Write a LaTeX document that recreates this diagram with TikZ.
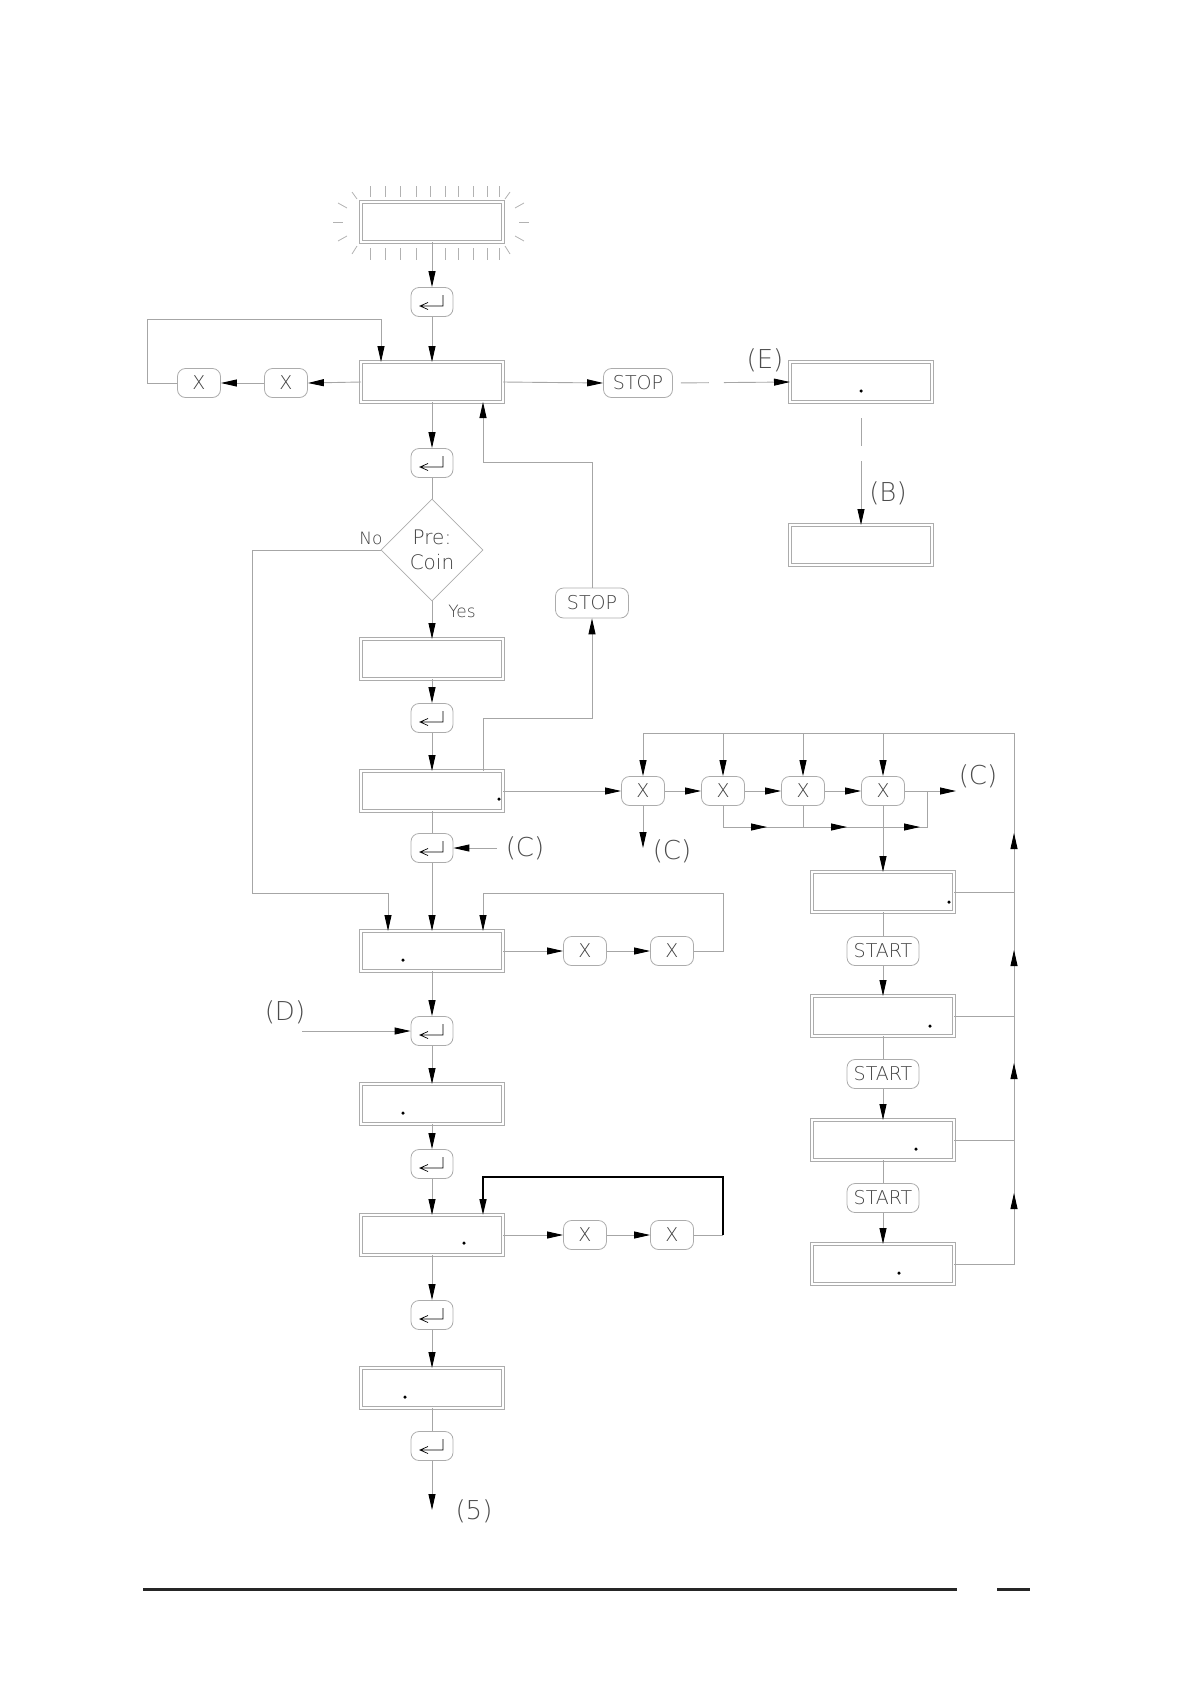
\documentclass[tikz,border=0pt]{standalone}
\usepackage{fontspec}
\setmainfont{DejaVu Sans ExtraLight}
\usetikzlibrary{arrows.meta,shapes.geometric,calc}
\begin{document}
\begin{tikzpicture}[x=1pt,y=-1pt,
  ln/.style={draw=gray!70, line width=0.9pt},
  arr/.style={ln, -{Triangle[length=16pt,width=7pt,color=black]}},
  boldarr/.style={draw=black, line width=1.6pt, -{Triangle[length=16pt,width=7pt,color=black]}},
  disp/.style={draw=gray!65, double=white, double distance=2.4pt, line width=0.75pt, minimum width=142pt, minimum height=40pt, inner sep=0pt, outer sep=0pt},
  btn/.style={draw=gray!65, line width=0.8pt, rounded corners=8pt, minimum height=29pt, inner sep=0pt, text=black!75, font=\fontsize{19}{22}\selectfont},
  xbtn/.style={btn, minimum width=43pt},
  entbtn/.style={btn, minimum width=42pt},
  stopbtn/.style={btn, minimum width=69pt},
  startbtn/.style={btn, minimum width=72pt},
  lab/.style={text=black!70, font=\fontsize{26}{28}\selectfont, inner sep=0pt},
  smlab/.style={text=black!75, font=\fontsize{17}{19}\selectfont, inner sep=0pt},
  dotmark/.style={circle, fill=black, inner sep=0pt, minimum size=3.5pt},
  ray/.style={draw=gray!60, line width=0.8pt},
  entsym/.style={draw=black, line width=0.7pt},
]
\useasboundingbox (0,0) rectangle (1190,1684);

% ---------- display boxes ----------
\node[disp] (T)  at (432,222) {};
\node[disp] (M)  at (432,382) {};
\node[disp] (EB) at (861,382) {};
\node[disp] (BB) at (861,545) {};
\node[disp] (B3) at (432,659) {};
\node[disp] (B4) at (432,791) {};
\node[disp] (B5) at (432,951) {};
\node[disp] (B6) at (432,1104) {};
\node[disp] (B7) at (432,1235) {};
\node[disp] (B8) at (432,1388) {};
\node[disp] (R1) at (883,892) {};
\node[disp] (R2) at (883,1016) {};
\node[disp] (R3) at (883,1140) {};
\node[disp] (R4) at (883,1264) {};

% dots
\node[dotmark] (dE) at (861,391) {};
\node[dotmark] (d4) at (499,799) {};
\node[dotmark] (d5) at (403,960) {};
\node[dotmark] (d6) at (403,1113) {};
\node[dotmark] (d7) at (464,1243) {};
\node[dotmark] (d8) at (405,1397) {};
\node[dotmark] (dr1) at (949,902) {};
\node[dotmark] (dr2) at (930,1026) {};
\node[dotmark] (dr3) at (916,1149) {};
\node[dotmark] (dr4) at (899,1273) {};

% rays around the flashing display
\foreach \x in {370,385,400,416,445,458,473,487,499} {
  \draw[ray] (\x,186) -- (\x,197);
  \draw[ray] (\x,248) -- (\x,260);
}
\draw[ray] (430,186) -- (430,197);
\foreach \a/\b/\c/\d in {352/192/357/199, 338/203/347/208, 333/222/343/222, 338/241/347/236, 352/254/357/246} {
  \draw[ray] (\a,\b) -- (\c,\d);
  \draw[ray] ({862-\a},\b) -- ({862-\c},\d);
}

% ---------- enter buttons ----------
\foreach \n/\y in {N1/302, N2/463, N3/718, N4/848, N5/1031, N6/1164, N7/1315, N8/1446} {
  \node[entbtn] (\n) at (432,\y) {};
  \draw[entsym, shift={(\n.center)}] (11,-7) -- (11,4) -- (-12,4) (-4,0.5) -- (-12,4) -- (-4,7.5);
}

% ---------- X buttons ----------
\node[xbtn] (XL1) at (199,383) {X};
\node[xbtn] (XL2) at (286,383) {X};
\node[xbtn] (XC1) at (643,791) {X};
\node[xbtn] (XC2) at (723,791) {X};
\node[xbtn] (XC3) at (803,791) {X};
\node[xbtn] (XC4) at (883,791) {X};
\node[xbtn] (X5a) at (585,951) {X};
\node[xbtn] (X5b) at (672,951) {X};
\node[xbtn] (X7a) at (585,1235) {X};
\node[xbtn] (X7b) at (672,1235) {X};

% ---------- STOP / START ----------
\node[stopbtn] (S1) at (638,383) {STOP};
\node[stopbtn, minimum width=73pt, minimum height=30pt] (S2) at (592,603) {STOP};
\node[startbtn] (ST1) at (883,951) {START};
\node[startbtn] (ST2) at (883,1074) {START};
\node[startbtn] (ST3) at (883,1198) {START};

% ---------- decision ----------
\node[diamond, draw=gray!65, line width=0.8pt, minimum width=102pt, minimum height=102pt, inner sep=0pt, align=center, text=black!75, font=\fontsize{20}{25}\selectfont] (D) at (432,550) {Pre:\\Coin};
\node[smlab] (no) at (371,538) {No};
\node[smlab] (yes) at (462,611) {Yes};

% ---------- labels ----------
\node[lab] (lE) at (765,360) {(E)};
\node[lab] (lB) at (888,493) {(B)};
\node[lab] (lC1) at (525,848) {(C)};
\node[lab] (lC2) at (672,851) {(C)};
\node[lab] (lC3) at (978,776) {(C)};
\node[lab] (lD) at (285,1012) {(D)};
\node[lab] (l5) at (474,1511) {(5)};

% free ends
\coordinate (rt) at (1014,733);
\coordinate (byp) at (927,827);
\coordinate (cC3) at (956,791);
\coordinate (cC2) at (643,848);
\coordinate (cC1) at (497,848);
\coordinate (cD) at (302,1031);
\coordinate (c5) at (432,1510);

% ---------- connectors: main column ----------
\draw[arr] (T.south) -- (N1.north);
\draw[arr] (N1.south) -- (M.north);
\draw[arr] (M.west) -- (XL2.east);
\draw[arr] (XL2.west) -- (XL1.east);
\draw[arr] (XL1.west) -- ++(-30,0) |- ([xshift=-51pt,yshift=43pt]M.north) -- ([xshift=-51pt]M.north);
\draw[arr] (M.east) -- (S1.west);
\draw[arr, dash pattern=on 0pt off 8pt on 28pt off 15pt on 300pt] (S1.east) -- (EB.west);
\draw[arr, dash pattern=on 0pt off 16pt on 28pt off 15pt on 300pt] (EB.south) -- (BB.north);
\draw[arr] (M.south) -- (N2.north);
\draw[ln] (N2.south) -- (D.north);
\draw[arr] (D.south) -- (B3.north);
\draw[arr] (D.west) -| (252,893) -| ([xshift=-44pt]B5.north);
\draw[arr] (B3.south) -- (N3.north);
\draw[arr] (N3.south) -- (B4.north);
\draw[arr] ([xshift=51pt]B4.north) |- (592,718) -- (S2.south);
\draw[arr] (S2.north) |- (483,462) -- ([xshift=51pt]M.south);

% X chain
\draw[arr] (B4.east) -- (XC1.west);
\draw[arr] (XC1.east) -- (XC2.west);
\draw[arr] (XC2.east) -- (XC3.west);
\draw[arr] (XC3.east) -- (XC4.west);
\draw[arr] (XC4.east) -- (cC3);
\draw[arr] (XC1.south) -- (cC2);
\draw[ln] (XC2.south) |- (byp) -- (byp |- XC4.east);
\draw[ln] (XC3.south) -- (XC3.south |- byp);
\draw[arr] (750,827) -- (767,827);
\draw[arr] (830,827) -- (847,827);
\draw[arr] (903,827) -- (920,827);
\draw[arr] (R4.east) -| (rt) -| (XC1.north);
\draw[arr] (XC2.north |- rt) -- (XC2.north);
\draw[arr] (XC3.north |- rt) -- (XC3.north);
\draw[arr] (XC4.north |- rt) -- (XC4.north);
\draw[ln] (R1.east) -- (R1.east -| rt);
\draw[ln] (R2.east) -- (R2.east -| rt);
\draw[ln] (R3.east) -- (R3.east -| rt);
\draw[arr] (1014,850) -- (1014,833);
\draw[arr] (1014,967) -- (1014,950);
\draw[arr] (1014,1080) -- (1014,1063);
\draw[arr] (1014,1210) -- (1014,1193);

% right column
\draw[arr] (XC4.south) -- (R1.north);
\draw[ln] (R1.south) -- (ST1.north);
\draw[arr] (ST1.south) -- (R2.north);
\draw[ln] (R2.south) -- (ST2.north);
\draw[arr] (ST2.south) -- (R3.north);
\draw[ln] (R3.south) -- (ST3.north);
\draw[arr] (ST3.south) -- (R4.north);

% lower main column
\draw[ln] (B4.south) -- (N4.north);
\draw[arr] (cC1) -- (N4.east);
\draw[arr] (N4.south) -- (B5.north);
\draw[arr] (B5.east) -- (X5a.west);
\draw[arr] (X5a.east) -- (X5b.west);
\draw[arr] (X5b.east) -| (723,893) -| ([xshift=51pt]B5.north);
\draw[arr] (B5.south) -- (N5.north);
\draw[arr] (cD) -- (N5.west);
\draw[arr] (N5.south) -- (B6.north);
\draw[arr] (B6.south) -- (N6.north);
\draw[arr] (N6.south) -- (B7.north);
\draw[arr] (B7.east) -- (X7a.west);
\draw[arr] (X7a.east) -- (X7b.west);
\draw[ln] (X7b.east) -- (723,1235);
\draw[boldarr] (723,1235) |- (483,1177) -- ([xshift=51pt]B7.north);
\draw[arr] (B7.south) -- (N7.north);
\draw[arr] (N7.south) -- (B8.north);
\draw[ln] (B8.south) -- (N8.north);
\draw[arr] (N8.south) -- (c5);

% footer rule
\draw[draw=black!85, line width=3pt] (143,1589) -- (957,1589);
\draw[draw=black!85, line width=3pt] (997,1589) -- (1030,1589);
\end{tikzpicture}
\end{document}
